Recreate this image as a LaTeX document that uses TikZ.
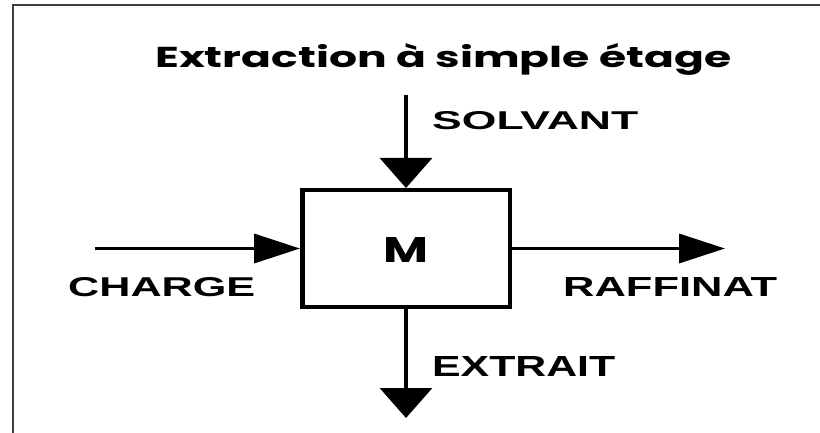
\documentclass[tikz,border=0pt]{standalone}
\usepackage{fontspec}
\usepackage{graphicx}
\setmainfont{Liberation Sans}
\newfontfamily\headfont{Poppins}
\usetikzlibrary{arrows.meta}

\tikzset{
  frameline/.style={line width=2.2pt, draw=black!75},
  mixer/.style={draw, line width=4.5pt, minimum width=207.5pt, minimum height=116.5pt, inner sep=0pt},
  hflow/.style={line width=3.5pt, -{Triangle[length=46pt, width=29pt]}},
  vflow/.style={line width=3.5pt, -{Triangle[length=30pt, width=52pt]}},
  lbl/.style={inner sep=0pt, anchor=south west},
}
% stretch a label to a given width and cap height
\newcommand{\fitlabel}[3]{\resizebox{#1}{#2}{\bfseries #3}}

\begin{document}
\begin{tikzpicture}[x=1pt, y=-1pt]
  \useasboundingbox (0,0) rectangle (820,433);

  % open frame: top and left edges only
  \coordinate (fa) at (13,433);
  \coordinate (fb) at (13,5);
  \coordinate (fc) at (820,5);
  \draw[frameline] (fa) -- (fb) -- (fc);

  % title
  \node[inner sep=0pt, anchor=base west] (title) at (155,68)
    {\resizebox{576pt}{24pt}{\headfont\bfseries Extraction à simple étage}};

  % mixing stage
  \node[mixer] (m) at (406,248.5) {};
  \node[inner sep=0pt] (mlabel) at (406,250)
    {\resizebox{45pt}{25pt}{\headfont\bfseries M}};

  % free ends of the streams
  \coordinate (solvin) at (406,95);
  \coordinate (chargein) at (95,248.5);
  \coordinate (raffout) at (725,248.5);
  \coordinate (extout) at (406,418);

  \draw[vflow] (solvin) -- (m.north);
  \draw[hflow] (chargein) -- (m.west);
  \draw[hflow] (m.east) -- (raffout);
  \draw[vflow] (m.south) -- (extout);

  % stream labels
  \node[lbl] (solvant) at (432,130) {\fitlabel{206pt}{18pt}{SOLVANT}};
  \node[lbl] (charge) at (68,297) {\fitlabel{187pt}{19pt}{CHARGE}};
  \node[lbl] (raffinat) at (563,297) {\fitlabel{214pt}{19pt}{RAFFINAT}};
  \node[lbl] (extrait) at (432,377) {\fitlabel{183pt}{20pt}{EXTRAIT}};
\end{tikzpicture}
\end{document}
